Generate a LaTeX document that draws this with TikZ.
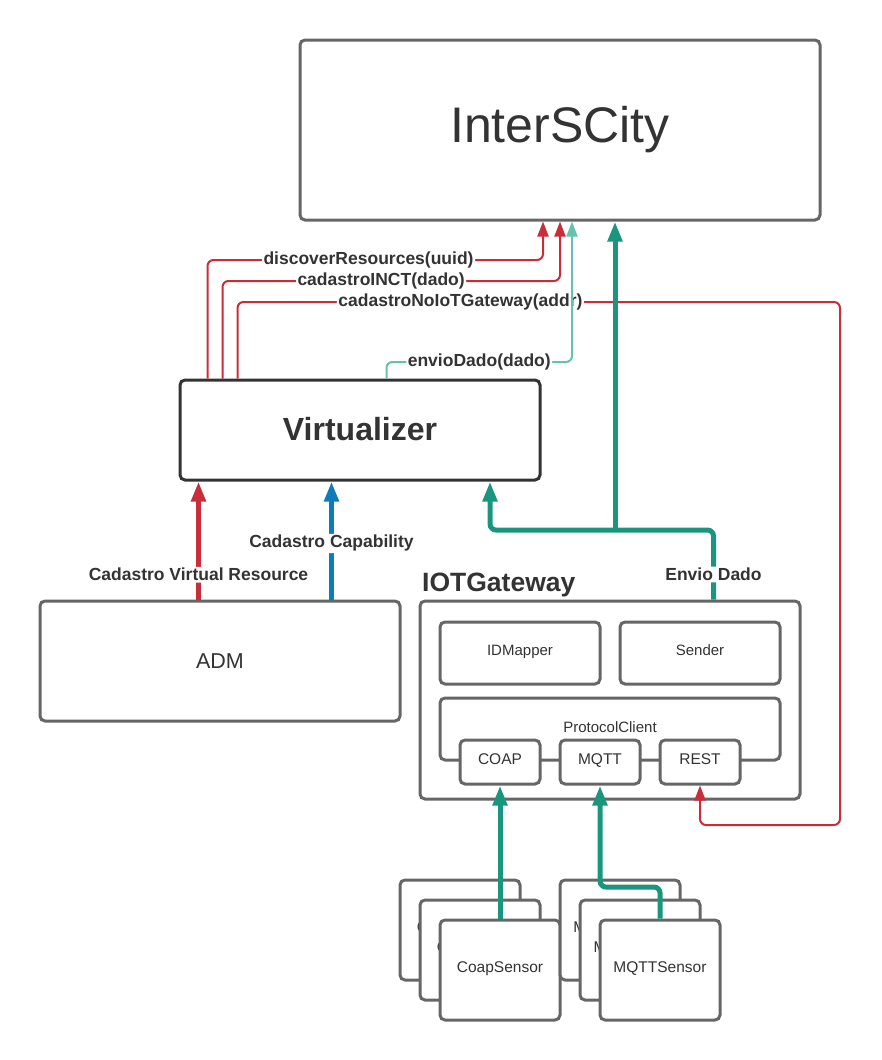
\documentclass[tikz,border=0pt]{standalone}
\usepackage{fontspec}
\setmainfont{Liberation Sans}
\usetikzlibrary{arrows.meta,positioning}

\definecolor{boxgray}{HTML}{666666}
\definecolor{darkline}{HTML}{333333}
\definecolor{txt}{HTML}{333333}
\definecolor{lcred}{HTML}{C92D39}
\definecolor{lcteal}{HTML}{19967D}
\definecolor{lclight}{HTML}{66C2AE}
\definecolor{lcblue}{HTML}{0C7CBA}

\newcommand{\fs}[1]{\fontsize{#1}{#1}\selectfont}

\tikzset{
  box/.style={draw=boxgray, line width=3pt, rounded corners=5pt, fill=white,
    text=txt, inner sep=0pt},
  smallbox/.style={box, text height=0.72em, text depth=0.21em},
  sensorbox/.style={smallbox, minimum width=120pt, minimum height=100pt, font=\fs{15.5}},
  protobox/.style={smallbox, minimum width=80pt, minimum height=44pt, font=\fs{15.5}},
  lbl/.style={fill=white, text=txt, inner sep=1.5pt, font=\bfseries\fs{17.5}},
  thinarrow/.style={line width=2pt, rounded corners=6pt,
    -{Triangle[width=11pt,length=15pt]}},
  thickarrow/.style={line width=5pt, rounded corners=6pt,
    -{Triangle[width=14pt,length=20pt]}},
}

\begin{document}
\begin{tikzpicture}[x=1pt, y=-1pt]
    \useasboundingbox (0,0) rectangle (881,1060);

    % main boxes
    \node[box, minimum width=520pt, minimum height=180pt, font=\fs{50}]
      (inter) at (560,130) {InterSCity};
    \node[box, draw=darkline, minimum width=360pt, minimum height=100pt, font=\bfseries\fs{32}]
      (virt) at (360,430) {\raisebox{2pt}{Virtualizer}};
    \node[box, minimum width=360pt, minimum height=120pt, font=\fs{21.5}]
      (adm) at (220,661) {ADM};

    % gateway and its parts
    \node[box, minimum width=380pt, minimum height=198pt] (gw) at (610,700) {};
    \node[anchor=south west, text=txt, font=\bfseries\fs{26.5}, inner sep=0pt]
      (gwtitle) at (422,597) {IOTGateway};
    \node[smallbox, minimum width=160pt, minimum height=62pt, font=\fs{15}]
      (idmap) at (520,653) {IDMapper};
    \node[smallbox, minimum width=160pt, minimum height=62pt, font=\fs{15}]
      (sender) at (700,653) {Sender};
    \node[box, minimum width=340pt, minimum height=62pt] (proto) at (610,729) {};
    \node[text=txt, font=\fs{15}, inner sep=0pt] (protolbl) at (610,727) {ProtocolClient};
    \node[protobox] (coap) at (500,762) {COAP};
    \node[protobox] (mqtt) at (600,762) {MQTT};
    \node[protobox] (rest) at (700,762) {REST};

    % sensors (stacked copies)
    \node[sensorbox] (coapA) at (460,930) {CoapSensor};
    \node[sensorbox] (coapB) at (480,950) {CoapSensor};
    \node[sensorbox] (coapS) at (500,970) {CoapSensor};
    \node[sensorbox] (mqttA) at (620,930) {MQTTSensor};
    \node[sensorbox] (mqttB) at (640,950) {MQTTSensor};
    \node[sensorbox] (mqttS) at (660,970) {MQTTSensor};

    % bend points
    \coordinate (discbend) at (543,260);
    \coordinate (inctbend) at (560,281);
    \coordinate (nobend) at (840,302);
    \coordinate (nobendlow) at (840,825);
    \coordinate (envbend) at (572,362);
    \coordinate (sendbend) at (490,530);
    \coordinate (split) at (615,530);
    \coordinate (mqbend) at (600,887);

    % calls from Virtualizer to InterSCity
    \draw[thinarrow, draw=lcred] ([xshift=29pt]virt.north west) |- (discbend)
      node[lbl, pos=0.74] (disclbl) {discoverResources(uuid)}
      -- (discbend |- inter.south);
    \draw[thinarrow, draw=lcred] ([xshift=44pt]virt.north west) |- (inctbend)
      node[lbl, pos=0.735] (inctlbl) {cadastroINCT(dado)}
      -- (inctbend |- inter.south);
    \draw[thinarrow, draw=lcred] ([xshift=59pt]virt.north west) |- (nobend)
      node[lbl, pos=0.685] (nolbl) {cadastroNoIoTGateway(addr)}
      -- (nobendlow) -| (rest.south);
    \draw[thinarrow, draw=lclight] ([xshift=208pt]virt.north west) |- (envbend)
      node[lbl, pos=0.75] (envlbl) {envioDado(dado)}
      -- (envbend |- inter.south);

    % ADM to Virtualizer
    \draw[thickarrow, draw=lcred] ([xshift=160pt]adm.north west)
      -- node[lbl, pos=0.21] (cvrlbl) {Cadastro Virtual Resource}
      ([xshift=160pt]adm.north west |- virt.south);
    \draw[thickarrow, draw=lcblue] ([xshift=293pt]adm.north west)
      -- node[lbl, pos=0.475] (caplbl) {Cadastro Capability}
      ([xshift=293pt]adm.north west |- virt.south);

    % gateway sends data
    \draw[thickarrow, draw=lcteal] ([xshift=295pt]gw.north west) |- (sendbend)
      node[lbl, pos=0.18] (edlbl) {Envio Dado}
      -- (sendbend |- virt.south);
    \draw[thickarrow, draw=lcteal] (split) -- (split |- inter.south);

    % sensors to protocol clients
    \draw[thickarrow, draw=lcteal] (coapS.north) -- (coap.south);
    \draw[thickarrow, draw=lcteal] (mqttS.north) |- (mqbend) -- (mqtt.south);
  \end{tikzpicture}
\end{document}
